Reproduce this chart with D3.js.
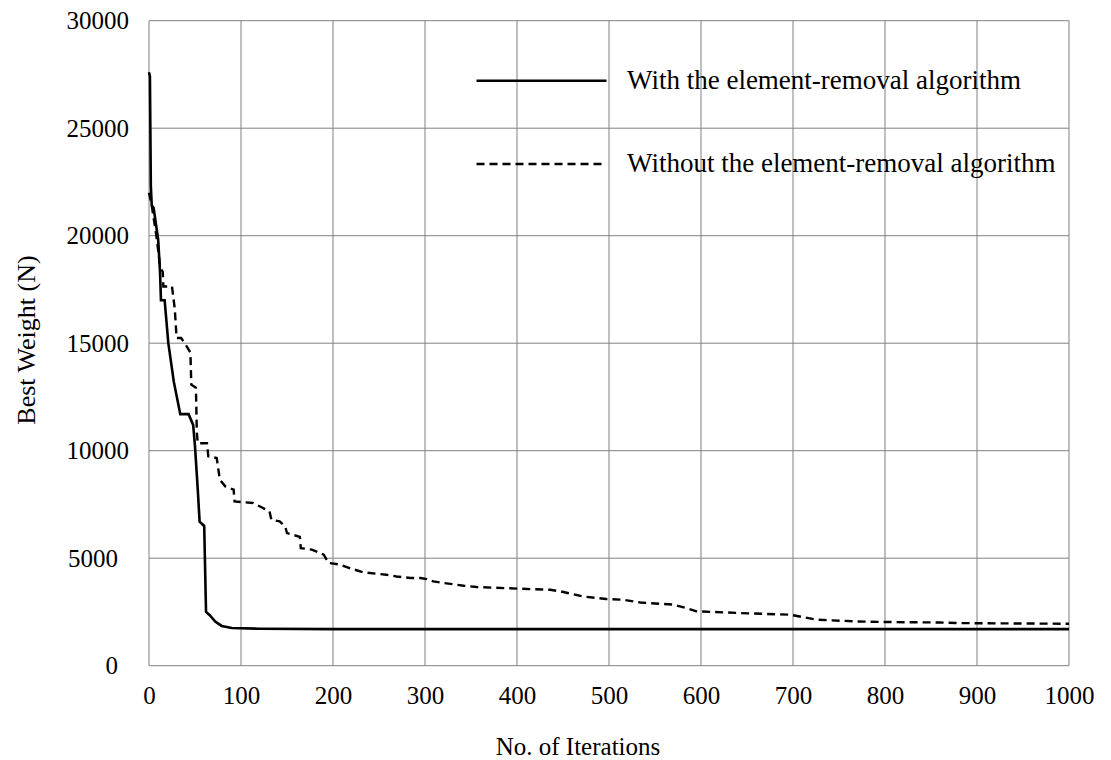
<!DOCTYPE html>
<html>
<head>
<meta charset="utf-8">
<script src="https://cdn.jsdelivr.net/npm/d3@7"></script>
<style>
  body { margin: 0; background: #fff; }
  text { font-family: "Liberation Serif", "Times New Roman", serif; fill: #000; }
</style>
</head>
<body>
<div class="chart"></div>
<script>
// best weight history
var iterWith = [0, 1, 2, 3, 5, 10, 12, 13, 17, 21, 27, 34, 43, 48, 50, 53, 55, 60, 62, 66, 72, 79, 90, 120, 200, 1000];
var weightWith = [27600, 27400, 22300, 21400, 21300, 19800, 18300, 17000, 17000, 15000, 13200, 11700, 11700, 11200, 10200, 8200, 6700, 6500, 2500, 2350, 2050, 1850, 1750, 1720, 1700, 1700];

var iterWithout = [0, 3, 8, 12, 15, 15.6, 25, 28, 30, 35, 41, 45, 46, 51, 52, 53, 63, 64.5, 73.6, 77, 83, 92, 93, 113, 131, 133, 142, 148, 150, 164, 165, 177, 190, 195, 208, 218, 233, 258, 269, 284, 295, 302, 309, 320, 342, 356, 403, 436, 447, 472, 497, 515, 534, 570, 584, 595, 642, 697, 711, 726, 769, 805, 860, 885, 1000];
var weightWithout = [22000, 21400, 20000, 18600, 18300, 17640, 17640, 16600, 15240, 15240, 14850, 14560, 13070, 12930, 10840, 10350, 10350, 9740, 9660, 8650, 8340, 8190, 7640, 7570, 7180, 6790, 6710, 6480, 6170, 5990, 5470, 5400, 5160, 4780, 4700, 4540, 4340, 4230, 4150, 4080, 4080, 4030, 3920, 3850, 3720, 3660, 3580, 3530, 3460, 3220, 3100, 3070, 2940, 2840, 2680, 2530, 2450, 2370, 2260, 2140, 2060, 2030, 2010, 1980, 1950];

var xTicks = [0, 100, 200, 300, 400, 500, 600, 700, 800, 900, 1000];
var yTicks = [0, 5000, 10000, 15000, 20000, 25000, 30000];
var seriesNames = ["With the element-removal algorithm", "Without the element-removal algorithm"];

var svgWidth = 1111;
var svgHeight = 760;
var margin = { top: 20.7, right: 42, bottom: 94.3, left: 149 };
var width = svgWidth - margin.left - margin.right;
var height = svgHeight - margin.top - margin.bottom;

var svg = d3.select(".chart")
  .append("svg")
  .attr("width", svgWidth)
  .attr("height", svgHeight);

var chart = svg.append("g")
  .attr("transform", "translate(" + margin.left + "," + margin.top + ")");

var xScale = d3.scaleLinear().domain([0, 1000]).range([0, width]);
var yScale = d3.scaleLinear().domain([0, 30000]).range([height, 0]);

// grid
chart.append("g")
  .selectAll("line.vgrid")
  .data(xTicks)
  .enter().append("line")
    .attr("x1", function(d) { return xScale(d); })
    .attr("x2", function(d) { return xScale(d); })
    .attr("y1", 0)
    .attr("y2", height)
    .attr("stroke", "#808080")
    .attr("stroke-width", 1);

chart.append("g")
  .selectAll("line.hgrid")
  .data(yTicks)
  .enter().append("line")
    .attr("x1", 0)
    .attr("x2", width)
    .attr("y1", function(d) { return yScale(d); })
    .attr("y2", function(d) { return yScale(d); })
    .attr("stroke", "#808080")
    .attr("stroke-width", 1);

// axes (labels only, lines come from grid)
var bottomAxis = d3.axisBottom(xScale).tickValues(xTicks).tickSize(0).tickPadding(21).tickFormat(d3.format("d"));
var leftAxis = d3.axisLeft(yScale).tickValues(yTicks).tickSize(0).tickPadding(20).tickFormat(d3.format("d"));

var gx = chart.append("g")
  .attr("transform", "translate(0," + height + ")")
  .call(bottomAxis);
gx.select(".domain").remove();
gx.selectAll("text").attr("font-size", 25).attr("font-family", "Liberation Serif");

var gy = chart.append("g").call(leftAxis);
gy.select(".domain").remove();
gy.selectAll("text")
  .attr("font-size", 25)
  .attr("font-family", "Liberation Serif")
  .attr("x", function(d) { return d >= 10000 ? -20 : -31; });

// series
var lineGen = d3.line()
  .x(function(d) { return xScale(d[0]); })
  .y(function(d) { return yScale(d[1]); });

chart.append("path")
  .datum(d3.zip(iterWithout, weightWithout))
  .attr("fill", "none")
  .attr("stroke", "#000")
  .attr("stroke-width", 2.4)
  .attr("stroke-dasharray", "8,5")
  .attr("d", lineGen);

chart.append("path")
  .datum(d3.zip(iterWith, weightWith))
  .attr("fill", "none")
  .attr("stroke", "#000")
  .attr("stroke-width", 2.6)
  .attr("d", lineGen);

// legend
var legend = svg.append("g");
var legendY = [80.7, 164];
legend.selectAll("line")
  .data(seriesNames)
  .enter().append("line")
    .attr("x1", 476.5)
    .attr("x2", 606.5)
    .attr("y1", function(d, i) { return legendY[i]; })
    .attr("y2", function(d, i) { return legendY[i]; })
    .attr("stroke", "#000")
    .attr("stroke-width", function(d, i) { return i === 0 ? 2.6 : 2.4; })
    .attr("stroke-dasharray", function(d, i) { return i === 0 ? null : "8,5"; });

legend.selectAll("text")
  .data(seriesNames)
  .enter().append("text")
    .attr("x", 627)
    .attr("y", function(d, i) { return legendY[i] - 1; })
    .attr("dy", "0.35em")
    .attr("font-size", 27)
    .text(function(d) { return d; });

// axis titles
svg.append("text")
  .attr("transform", "translate(26,340) rotate(-90)")
  .attr("text-anchor", "middle")
  .attr("dy", "0.35em")
  .attr("font-size", 26)
  .text("Best Weight (N)");

svg.append("text")
  .attr("x", 578)
  .attr("y", 746)
  .attr("text-anchor", "middle")
  .attr("dy", "0.35em")
  .attr("font-size", 25)
  .text("No. of Iterations");
</script>
</body>
</html>
